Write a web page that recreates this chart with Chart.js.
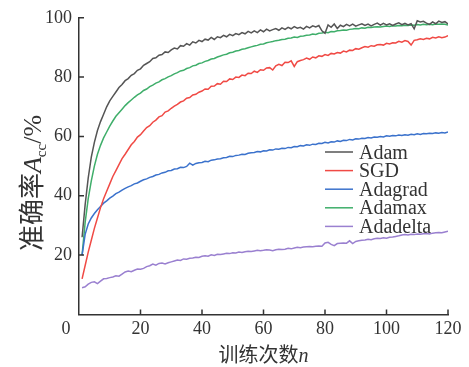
<!DOCTYPE html>
<html lang="zh-CN">
<head>
    <meta charset="UTF-8">
    <title>准确率曲线</title>
    <style>
        body {
            margin: 0;
            background: #ffffff;
        }
        .chart-box {
            position: relative;
            width: 469px;
            height: 367px;
        }
    </style>
    <script src="https://cdn.jsdelivr.net/npm/chart.js"></script>
</head>
<body>
    <div class="chart-box">
        <canvas id="grafico"></canvas>
    </div>

    <script>
        // training epochs 1..120
        const epocas = Array.from({ length: 120 }, (_, i) => i + 1);
        const ticksX = [0, 20, 40, 60, 80, 100, 120];
        const ticksY = [0, 20, 40, 60, 80, 100];
        const nomes = ['Adam', 'SGD', 'Adagrad', 'Adamax', 'Adadelta'];
        const cores = ['#555555', '#f04a45', '#3b72cc', '#3fae6a', '#9a80d0'];

        const adam = [
            26, 37, 46, 53, 58, 62, 65, 67.5, 70, 72, 73.5, 75, 76.5, 77.5, 78.8, 79.5, 80.6, 81.2, 82.3, 82.8,
            84, 84.6, 85.2, 86.3, 86.5, 87.4, 87.6, 88.5, 88.3, 89.2, 89.8, 89.5, 90.6, 90.4, 91.3, 90.8, 91.9, 91.5, 92.4, 92.0,
            92.8, 92.5, 93.4, 92.7, 93.6, 93.3, 94.1, 93.6, 94.4, 94.0, 94.7, 94.3, 95.0, 94.6, 95.4, 94.9, 95.6, 95.0, 95.9, 95.3,
            96.2, 95.6, 96.0, 96.4, 95.8, 96.6, 96.1, 96.8, 96.3, 97.0, 96.5, 96.8, 96.2, 97.1, 96.6, 97.3, 96.9, 97.4, 95.6, 94.8,
            97.6, 96.8, 97.9, 96.4, 97.5, 97.0, 97.8, 97.3, 97.9, 97.2, 97.6, 98.0, 97.4, 97.9, 97.3, 97.8, 98.2, 97.5, 98.1, 97.6,
            98.0, 97.4, 97.9, 98.3, 97.7, 98.1, 97.6, 98.0, 96.3, 99.0, 98.6, 98.8, 98.2, 97.8, 98.6, 98.0, 98.9, 98.4, 98.7, 97.9
        ];
        const sgd = [
            12, 16.5, 21, 25, 29, 32.5, 36, 39, 41.5, 44, 46.5, 48.5, 50.5, 52.5, 54, 55.6, 57.2, 58.3, 59.8, 60.6,
            61.8, 63.0, 63.6, 64.8, 65.5, 66.6, 67.0, 68.2, 68.6, 69.5, 70.2, 70.8, 71.6, 72.0, 72.9, 73.1, 74.0, 74.2, 74.9, 75.3,
            76.0, 75.9, 76.9, 77.0, 77.8, 77.6, 78.6, 78.5, 79.4, 79.2, 80.0, 79.9, 80.7, 80.5, 81.3, 81.2, 82.0, 81.6, 82.5, 82.3,
            83.1, 83.2, 82.4, 83.8, 84.3, 83.9, 85.0, 84.9, 85.5, 83.6, 85.2, 85.6, 85.9, 86.4, 86.0, 86.8, 86.5, 87.2, 87.0, 87.6,
            87.3, 88.0, 87.8, 88.3, 88.1, 88.8, 88.5, 89.1, 89.0, 89.6, 89.4, 89.9, 90.3, 90.1, 90.6, 90.4, 90.9, 91.0, 90.8, 91.4,
            91.2, 91.6, 91.5, 92.1, 91.8, 92.3, 92.0, 90.8, 92.4, 92.6, 92.9, 92.7, 93.1, 92.9, 93.4, 93.2, 93.6, 93.3, 93.5, 94.0
        ];
        const adagrad = [
            20, 27, 30.5, 32.5, 34, 35.3, 36.4, 37.5, 38.3, 39.2, 39.9, 40.7, 41.2, 41.9, 42.5, 43.0, 43.4, 44.0, 44.3, 44.9,
            45.4, 45.7, 46.2, 46.5, 47.0, 47.2, 47.7, 47.9, 48.4, 48.5, 49.0, 49.1, 49.6, 49.5, 49.9, 51.0, 50.3, 50.9, 51.1, 51.2,
            51.6, 51.5, 52.0, 52.1, 52.4, 52.5, 52.8, 52.9, 53.3, 53.2, 53.6, 53.7, 54.0, 53.9, 54.3, 54.5, 54.6, 54.9, 54.8, 55.2,
            55.1, 55.5, 55.4, 55.8, 55.7, 56.0, 55.9, 56.3, 56.2, 56.6, 56.5, 56.9, 56.8, 57.2, 57.0, 57.4, 57.3, 57.7, 57.6, 58.0,
            57.8, 58.2, 58.1, 58.5, 58.3, 58.7, 58.6, 59.0, 58.8, 59.2, 59.1, 59.4, 59.3, 59.6, 59.5, 59.8, 59.7, 60.0, 59.8, 60.2,
            60.1, 60.3, 60.2, 60.5, 60.3, 60.6, 60.4, 60.7, 60.6, 60.9, 60.7, 61.0, 60.9, 61.1, 61.0, 61.2, 61.1, 61.3, 61.2, 61.5
        ];
        const adamax = [
            20, 31, 39, 45, 50, 54, 57, 59.5, 61.5, 63.5, 65.2, 66.8, 68.0, 69.2, 70.4, 71.4, 72.3, 73.2, 74.0, 74.6,
            75.5, 76.0, 76.8, 77.3, 78.0, 78.4, 79.1, 79.5, 80.1, 80.5, 81.1, 81.5, 82.1, 82.3, 82.9, 83.2, 83.8, 84.0, 84.6, 84.8,
            85.3, 85.6, 86.1, 86.3, 86.8, 87.1, 87.5, 87.7, 88.2, 88.4, 88.8, 89.0, 89.4, 89.6, 89.9, 90.2, 90.5, 90.7, 91.1, 91.2,
            91.6, 91.8, 92.0, 92.3, 92.4, 92.7, 92.8, 93.1, 93.2, 93.5, 93.4, 93.8, 93.9, 94.1, 94.2, 94.5, 94.4, 94.8, 94.9, 95.1,
            95.0, 95.4, 95.3, 95.6, 95.7, 95.9, 95.8, 96.1, 96.2, 96.4, 96.3, 96.6, 96.5, 96.8, 96.7, 96.9, 97.0, 96.9, 97.1, 97.2,
            97.1, 97.3, 97.2, 97.4, 97.3, 97.5, 97.4, 97.6, 97.5, 97.7, 97.6, 97.8, 97.7, 97.8, 97.7, 97.9, 97.8, 97.9, 97.8, 97.6
        ];
        const adadelta = [
            9, 9.3, 10.2, 10.8, 11.0, 10.4, 11.2, 12.0, 12.1, 12.4, 12.6, 13.0, 12.9, 13.6, 14.3, 14.6, 14.4, 14.9, 15.3, 15.2,
            15.5, 16.1, 16.4, 17.0, 16.6, 17.2, 17.3, 17.0, 17.4, 17.7, 18.0, 18.3, 18.2, 18.7, 18.6, 18.9, 19.0, 19.3, 19.2, 19.6,
            19.8, 19.6, 20.1, 19.9, 20.3, 20.2, 20.4, 20.6, 20.5, 20.8, 20.7, 21.0, 20.9, 21.1, 21.3, 21.2, 21.4, 21.6, 21.5, 21.6,
            21.8, 21.7, 21.5, 21.8, 22.0, 21.9, 22.0, 22.3, 22.1, 22.4, 22.6, 22.5, 22.7, 22.8, 22.9, 22.8, 23.0, 23.1, 23.0, 24.1,
            24.3, 23.6, 23.2, 23.9, 24.0, 24.1, 24.0, 24.8, 23.9, 24.6, 24.8, 25.0, 25.1, 25.3, 25.2, 25.5, 25.7, 25.6, 25.8, 25.7,
            26.0, 26.1, 26.3, 26.5, 26.8, 26.9, 26.8, 27.0, 26.9, 27.1, 27.0, 27.2, 27.3, 27.1, 27.4, 27.5, 27.6, 27.5, 27.8, 28.0
        ];
        const series = [adam, sgd, adagrad, adamax, adadelta];

        const serif = '"Liberation Serif", "Times New Roman", serif';
        const cjk = '"Noto Sans CJK SC", sans-serif';

        // ticks inward, titles, legend and the shared corner "0"
        const extras = {
            id: 'extras',
            afterDraw(chart) {
                const ctx = chart.ctx;
                const area = chart.chartArea;
                const sx = chart.scales.x;
                const sy = chart.scales.y;
                ctx.save();
                ctx.strokeStyle = '#333';
                ctx.lineWidth = 1.5;
                ctx.beginPath();
                ticksX.slice(1).forEach(t => {
                    const px = sx.getPixelForValue(t);
                    ctx.moveTo(px, area.bottom);
                    ctx.lineTo(px, area.bottom - 5);
                });
                ticksY.slice(1).forEach(t => {
                    const py = sy.getPixelForValue(t);
                    ctx.moveTo(area.left, py);
                    ctx.lineTo(area.left + 5, py);
                });
                ctx.stroke();

                ctx.fillStyle = '#333';
                ctx.font = '18px ' + serif;
                ctx.textAlign = 'center';
                ctx.textBaseline = 'alphabetic';
                ctx.fillText('0', area.left - 13, 333.5);

                // x title
                ctx.textAlign = 'left';
                ctx.font = '20px ' + cjk;
                const t1 = '训练次数';
                const w1 = ctx.measureText(t1).width;
                ctx.font = 'italic 20px ' + serif;
                const w2 = ctx.measureText('n').width;
                let x0 = (area.left + area.right) / 2 - (w1 + w2) / 2;
                ctx.font = '20px ' + cjk;
                ctx.fillText(t1, x0, 362);
                ctx.font = 'italic 20px ' + serif;
                ctx.fillText('n', x0 + w1, 362);

                // y title
                ctx.translate(41, 183);
                ctx.rotate(-Math.PI / 2);
                const partes = [
                    { s: '准确率', f: '26px ' + cjk, dy: 0 },
                    { s: 'A', f: 'italic 26px ' + serif, dy: 0 },
                    { s: 'cc', f: '15px ' + serif, dy: 5 },
                    { s: '/%', f: '26px ' + serif, dy: 0 }
                ];
                let total = 0;
                partes.forEach(p => { ctx.font = p.f; total += ctx.measureText(p.s).width; });
                let px = -total / 2;
                partes.forEach(p => {
                    ctx.font = p.f;
                    ctx.fillText(p.s, px, p.dy);
                    px += ctx.measureText(p.s).width;
                });
                ctx.restore();

                // legend
                ctx.save();
                ctx.font = '20px ' + serif;
                ctx.textBaseline = 'alphabetic';
                nomes.forEach((nome, i) => {
                    const ly = 152 + i * 18.6;
                    ctx.strokeStyle = cores[i];
                    ctx.lineWidth = 1.5;
                    ctx.beginPath();
                    ctx.moveTo(325, ly);
                    ctx.lineTo(353, ly);
                    ctx.stroke();
                    ctx.fillStyle = '#333';
                    ctx.fillText(nome, 359, ly + 6.5);
                });
                ctx.restore();
            }
        };

        const ctxGrafico = document.getElementById('grafico').getContext('2d');
        const grafico = new Chart(ctxGrafico, {
            type: 'line',
            data: {
                datasets: nomes.map((nome, i) => ({
                    label: nome,
                    data: series[i].map((v, k) => ({ x: epocas[k], y: v })),
                    borderColor: cores[i],
                    borderWidth: 1.5,
                    pointRadius: 0,
                    fill: false,
                    tension: 0
                }))
            },
            options: {
                responsive: true,
                maintainAspectRatio: false,
                animation: false,
                layout: {
                    padding: { left: 38, right: 21, top: 13, bottom: 23 }
                },
                plugins: {
                    legend: { display: false },
                    tooltip: { enabled: false }
                },
                scales: {
                    x: {
                        type: 'linear',
                        min: 0,
                        max: 120,
                        afterBuildTicks: axis => { axis.ticks = ticksX.map(v => ({ value: v })); },
                        grid: { display: false, drawTicks: false },
                        border: { display: true, color: '#333', width: 1.5 },
                        ticks: {
                            color: '#333',
                            padding: 4,
                            maxRotation: 0,
                            font: { family: serif, size: 18 },
                            callback: v => (v === 0 ? '' : v)
                        }
                    },
                    y: {
                        min: 0,
                        max: 100,
                        afterBuildTicks: axis => { axis.ticks = ticksY.map(v => ({ value: v })); },
                        grid: { display: false, drawTicks: false },
                        border: { display: true, color: '#333', width: 1.5 },
                        ticks: {
                            color: '#333',
                            padding: 7,
                            font: { family: serif, size: 18 },
                            callback: v => (v === 0 ? '' : v)
                        }
                    }
                }
            },
            plugins: [extras]
        });
    </script>
</body>
</html>
